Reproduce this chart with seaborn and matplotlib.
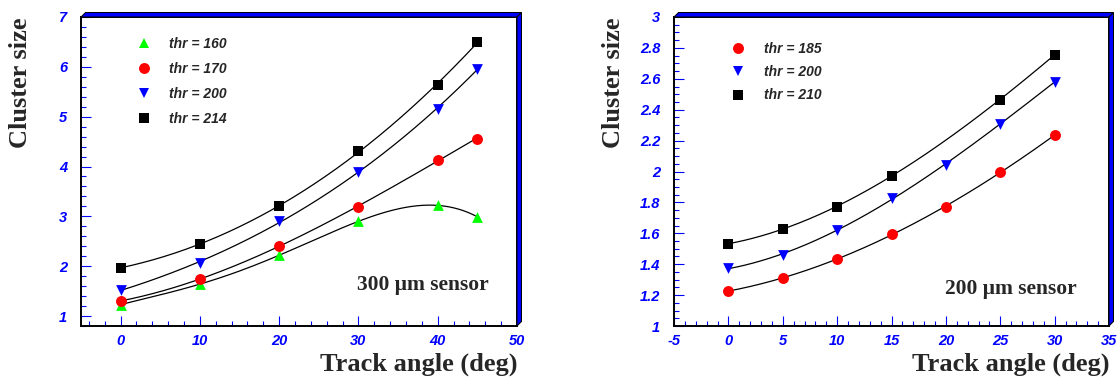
import numpy as np
import matplotlib
matplotlib.use("Agg")
import matplotlib.pyplot as plt
import seaborn as sns
from matplotlib.ticker import MultipleLocator, FuncFormatter
from matplotlib.patches import Polygon
from matplotlib.lines import Line2D

# ---------------- data ----------------
# 300 um sensor
angles_300 = [0, 10, 20, 30, 40, 45]
thr160 = [1.23, 1.64, 2.22, 2.90, 3.22, 2.99]
thr170 = [1.30, 1.75, 2.40, 3.19, 4.14, 4.56]
thr200_300 = [1.52, 2.07, 2.90, 3.89, 5.16, 5.96]
thr214 = [1.97, 2.44, 3.21, 4.31, 5.64, 6.50]
labels_300 = ["thr = 160", "thr = 170", "thr = 200", "thr = 214"]

# 200 um sensor
angles_200 = [0, 5, 10, 15, 20, 25, 30]
thr185 = [1.227, 1.309, 1.434, 1.594, 1.773, 1.994, 2.236]
thr200_200 = [1.374, 1.460, 1.622, 1.830, 2.040, 2.310, 2.580]
angles_210 = [0, 5, 10, 15, 25, 30]
thr210 = [1.533, 1.627, 1.773, 1.974, 2.465, 2.756]
labels_200 = ["thr = 185", "thr = 200", "thr = 210"]

# ---------------- style ----------------
sns.set_theme(style="ticks")
plt.rcParams["font.family"] = ["Liberation Sans", "DejaVu Sans"]

GREEN, RED, BLUE, BLACK = "#00ff00", "#ff0000", "#0000ff", "#000000"
SERIF = ["Liberation Serif", "DejaVu Serif"]

fig = plt.figure(figsize=(11.2, 3.81), dpi=100)
fig.patch.set_facecolor("white")
W, H = 1120.0, 381.0
ax1 = fig.add_axes([81 / W, (H - 326) / H, 436 / W, 309 / H])
ax2 = fig.add_axes([674 / W, (H - 326) / H, 435 / W, 309 / H])

# (x, y, marker, colour, size, fit degree)
series_300 = [
    (angles_300, thr160, "^", GREEN, 60, 4),
    (angles_300, thr170, "o", RED, 62, 3),
    (angles_300, thr200_300, "v", BLUE, 60, 3),
    (angles_300, thr214, "s", BLACK, 52, 3),
]
series_200 = [
    (angles_200, thr185, "o", RED, 62, 3),
    (angles_200, thr200_200, "v", BLUE, 60, 3),
    (angles_210, thr210, "s", BLACK, 52, 3),
]


def draw(ax, series):
    handles = []
    for xs, ys, m, c, s, deg in series:
        xs = np.asarray(xs, float)
        ys = np.asarray(ys, float)
        coef = np.polyfit(xs, ys, deg)
        xf = np.linspace(xs.min(), xs.max(), 200)
        sns.lineplot(x=xf, y=np.polyval(coef, xf), color="black", lw=0.9,
                     ax=ax, zorder=2, estimator=None, sort=False)
        sns.scatterplot(x=xs, y=ys, marker=m, color=c, s=s, linewidth=0,
                        ax=ax, zorder=3)
        handles.append(Line2D([], [], marker=m, color=c, linestyle="None",
                              markersize=np.sqrt(s), markeredgewidth=0))
    return handles


def style_axes(ax, xlim, ylim, xmaj, xmin, ymaj, ymin):
    ax.set_xlim(*xlim)
    ax.set_ylim(*ylim)
    ax.set_facecolor("white")
    ax.grid(False)
    ax.xaxis.set_major_locator(MultipleLocator(xmaj))
    ax.xaxis.set_minor_locator(MultipleLocator(xmin))
    ax.yaxis.set_major_locator(MultipleLocator(ymaj))
    ax.yaxis.set_minor_locator(MultipleLocator(ymin))
    fmt = FuncFormatter(lambda v, p: ("%g" % round(v, 6)))
    ax.xaxis.set_major_formatter(fmt)
    ax.yaxis.set_major_formatter(fmt)
    ax.tick_params(which="both", direction="in", color=BLUE, width=0.8,
                   top=False, right=False)
    ax.tick_params(which="major", length=7.5)
    ax.tick_params(which="minor", length=3.8)
    ax.tick_params(axis="x", which="major", pad=6)
    ax.tick_params(axis="y", which="major", pad=10)
    for lab in ax.get_xticklabels() + ax.get_yticklabels():
        lab.set_color(BLUE)
        lab.set_fontweight("bold")
        lab.set_fontstyle("italic")
        lab.set_fontsize(10.5)
    for sp in ax.spines.values():
        sp.set_color("black")
        sp.set_linewidth(1.4)
    ax.set_xlabel("Track angle (deg)", fontsize=19, fontweight="bold",
                  family=SERIF, loc="right")
    ax.xaxis.set_label_coords(1.0, -0.085)
    ax.set_ylabel("Cluster size", fontsize=19, fontweight="bold",
                  family=SERIF, loc="top")
    ax.yaxis.set_label_coords(-0.112, 1.0)
    # blue 3-D shadow frame
    dx, dy = 4.5 / 436, 4.5 / 309
    top = Polygon([(0, 1), (dx, 1 + dy), (1 + dx, 1 + dy), (1, 1)],
                  closed=True, transform=ax.transAxes, facecolor=BLUE,
                  edgecolor="black", lw=0.7, clip_on=False, zorder=5)
    right = Polygon([(1, 0), (1 + dx, dy), (1 + dx, 1 + dy), (1, 1)],
                    closed=True, transform=ax.transAxes, facecolor=BLUE,
                    edgecolor="black", lw=0.7, clip_on=False, zorder=5)
    ax.add_patch(top)
    ax.add_patch(right)


h1 = draw(ax1, series_300)
h2 = draw(ax2, series_200)

style_axes(ax1, (-5, 50), (0.8, 7), 10, 2, 1, 0.2)
style_axes(ax2, (-5, 35), (1, 3), 5, 1, 0.2, 0.05)

leg_font = {"family": "Liberation Sans", "weight": "bold", "style": "italic",
            "size": 10}
ax1.legend(h1, labels_300, loc="upper left", bbox_to_anchor=(0.128, 0.935),
           frameon=False, prop=leg_font, handlelength=1.0,
           handletextpad=1.3, labelspacing=0.78, borderpad=0,
           borderaxespad=0)
ax2.legend(h2, labels_200, loc="upper left", bbox_to_anchor=(0.131, 0.919),
           frameon=False, prop=leg_font, handlelength=1.0,
           handletextpad=1.37, labelspacing=0.66, borderpad=0,
           borderaxespad=0)

ax1.text(0.936, 0.133, "300 \u03bcm sensor", transform=ax1.transAxes,
         ha="right", va="center", fontsize=15.5, fontweight="bold",
         family=SERIF)
ax2.text(0.926, 0.12, "200 \u03bcm sensor", transform=ax2.transAxes,
         ha="right", va="center", fontsize=15.5, fontweight="bold",
         family=SERIF)

fig.savefig("out.png", dpi=100, facecolor="white")
